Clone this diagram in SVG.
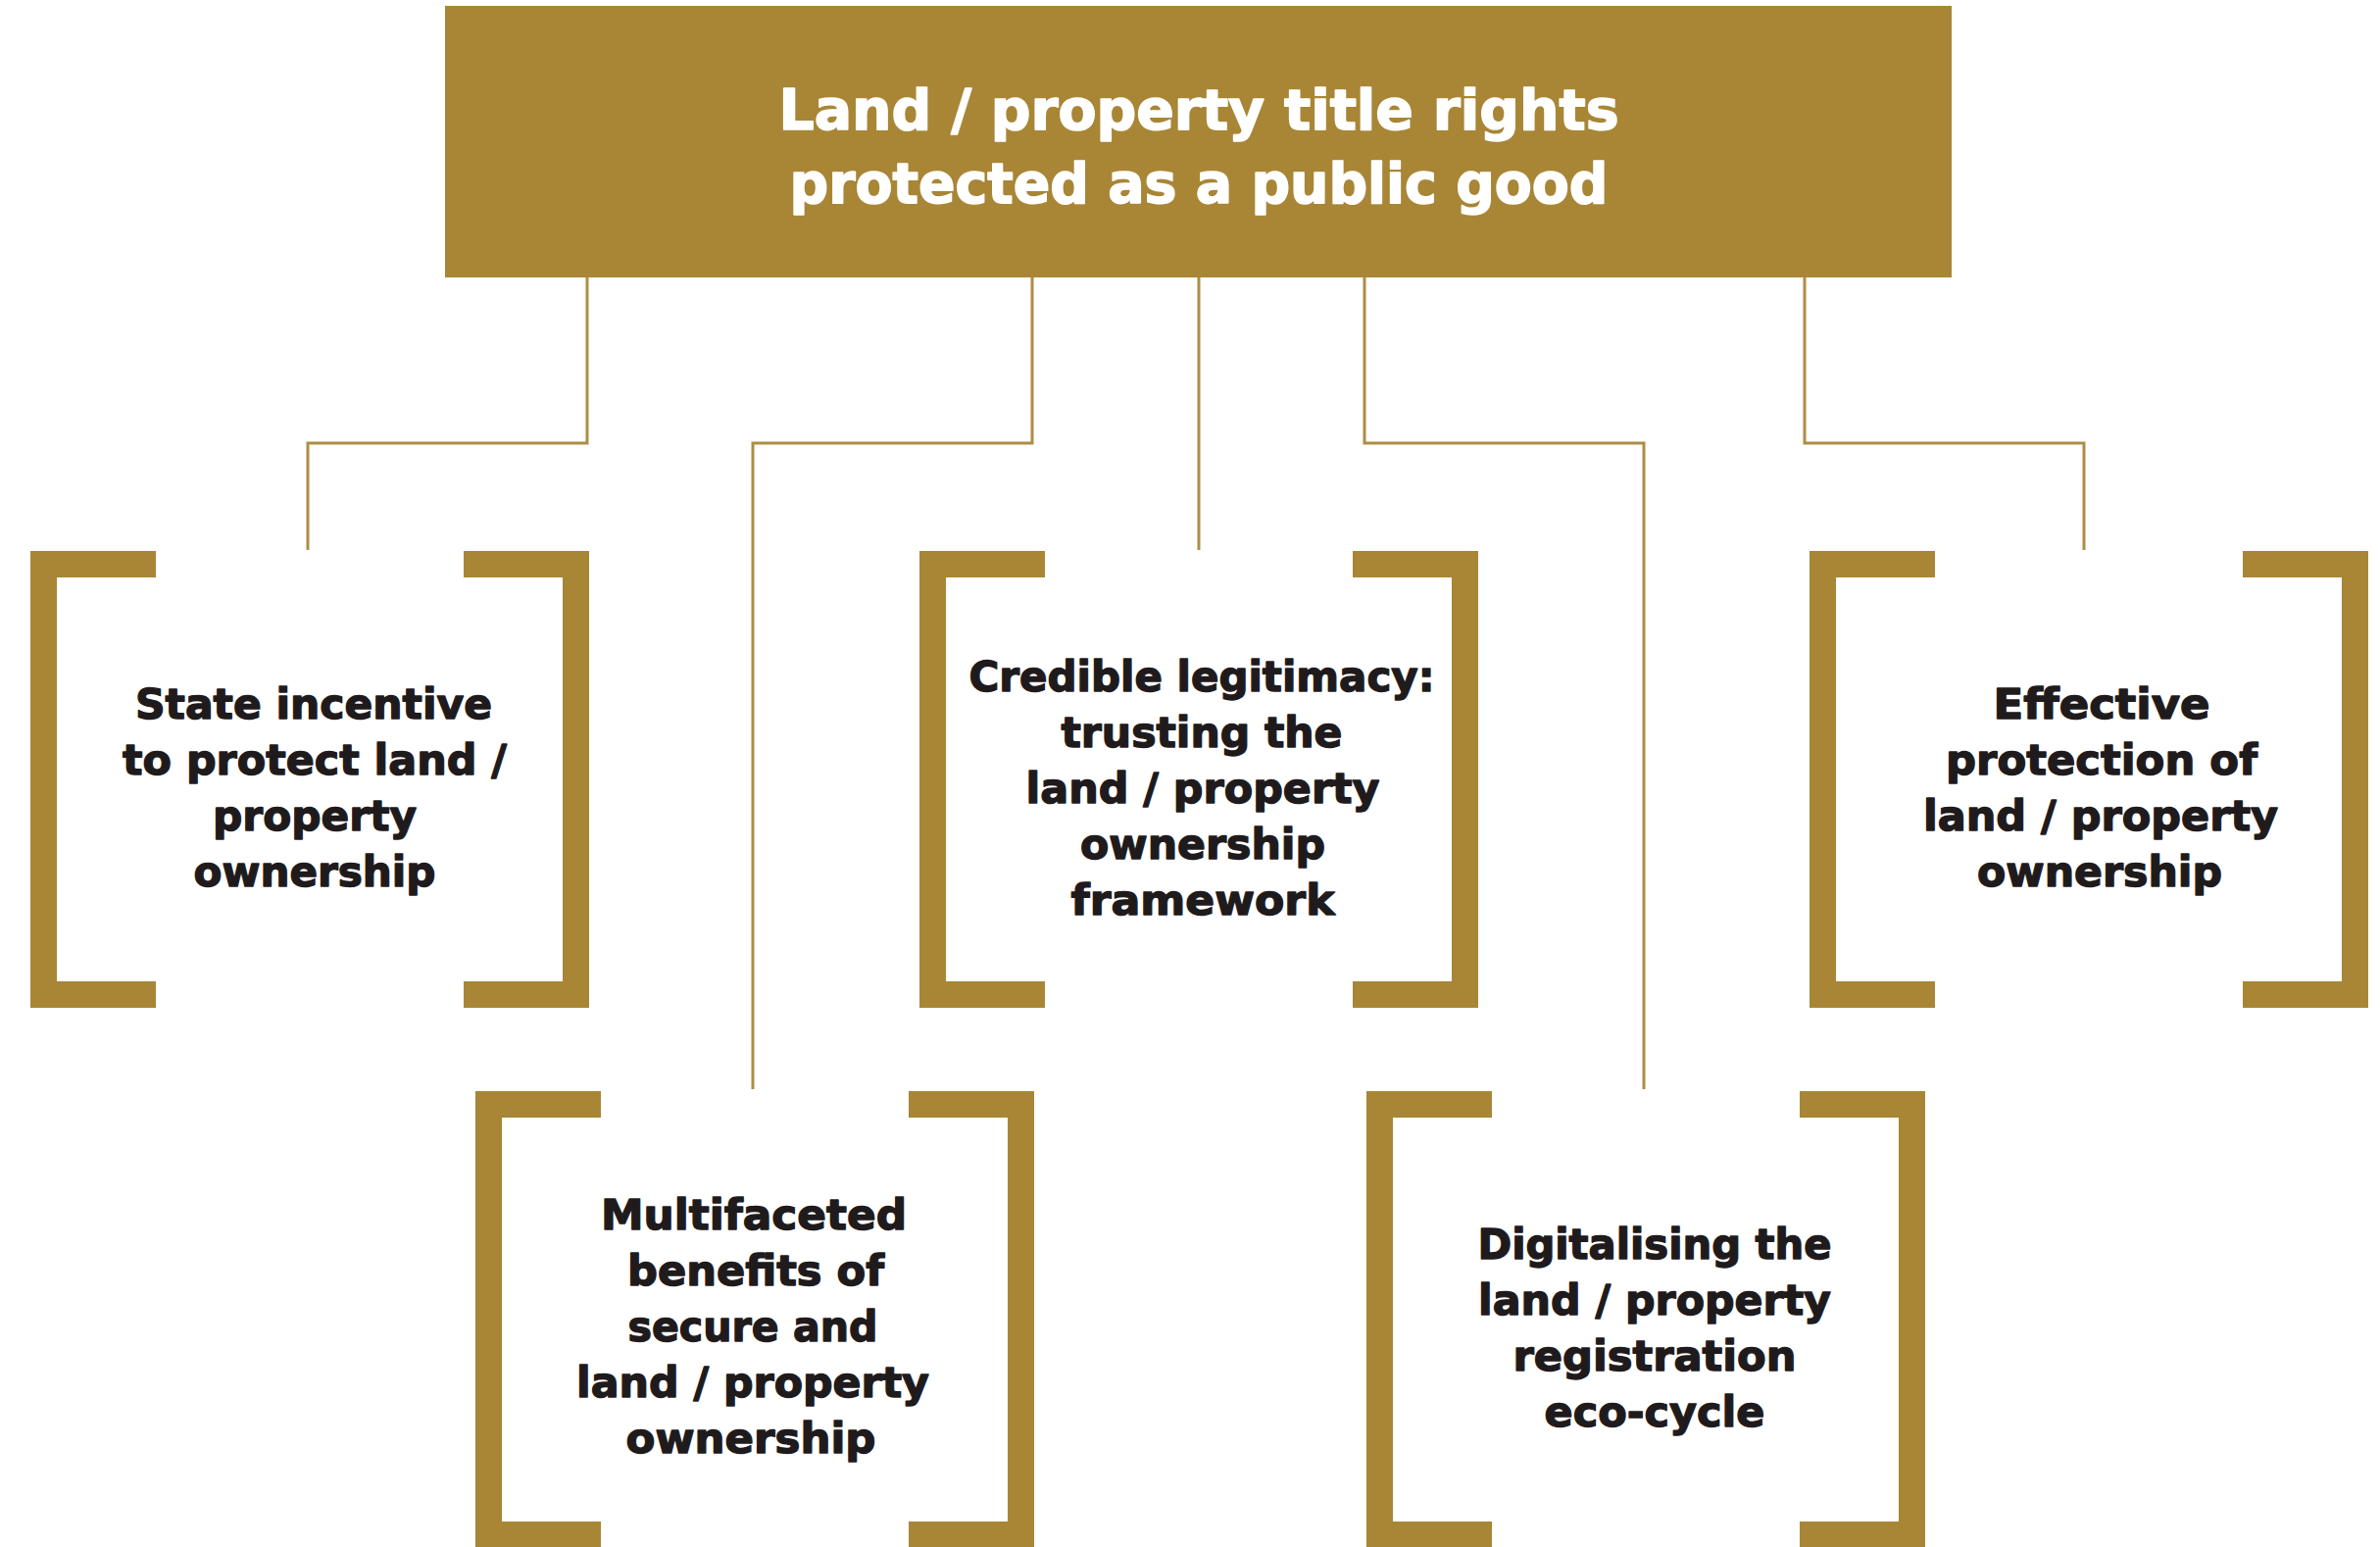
<svg xmlns="http://www.w3.org/2000/svg" xmlns:xlink="http://www.w3.org/1999/xlink" width="2428" height="1578" viewBox="0 0 2428 1578">
  <style>
    .bg { fill: #ffffff; }
    .head { fill: #a88636; }
    .bracket { fill: none; stroke: #a88636; stroke-width: 27; stroke-linejoin: miter; stroke-linecap: butt; }
    .link { fill: none; stroke: #ad8d45; stroke-width: 3; stroke-linejoin: miter; }
    .title { font-family: "DejaVu Sans", "Liberation Sans", sans-serif; font-weight: bold; font-size: 57px; fill: #ffffff; stroke: #ffffff; stroke-width: 1.6; stroke-linejoin: round; text-anchor: middle; }
    .label { font-family: "DejaVu Sans", "Liberation Sans", sans-serif; font-weight: bold; font-size: 43px; fill: #1f1b1c; stroke: #1f1b1c; stroke-width: 1.4; stroke-linejoin: round; text-anchor: middle; }
  </style>
  <defs>
    <!-- open square brackets framing each box, 570 x 466 -->
    <path id="brackets" class="bracket" d="M128,13.5 H13.5 V452.5 H128 M442,13.5 H556.5 V452.5 H442"/>
  </defs>

  <rect class="bg" x="0" y="0" width="2428" height="1578"/>

  <!-- connectors from the header down to each box -->
  <g id="connectors">
    <path class="link" d="M599,282 V452 H314 V561"/>
    <path class="link" d="M1053,282 V452 H768 V1111"/>
    <path class="link" d="M1223,282 V561"/>
    <path class="link" d="M1392,282 V452 H1677 V1111"/>
    <path class="link" d="M1841,282 V452 H2126 V561"/>
  </g>

  <g id="header">
    <rect class="head" x="454" y="6" width="1537" height="277"/>
    <text class="title" x="1223" y="132" textLength="857" lengthAdjust="spacingAndGlyphs">Land / property title rights</text>
    <text class="title" x="1223" y="207" textLength="835" lengthAdjust="spacingAndGlyphs">protected as a public good</text>
  </g>

  <g id="state-incentive">
    <use xlink:href="#brackets" href="#brackets" x="31" y="562"/>
    <text class="label" x="320" y="733" textLength="364" lengthAdjust="spacingAndGlyphs">State incentive</text>
    <text class="label" x="321" y="790" textLength="392" lengthAdjust="spacingAndGlyphs">to protect land /</text>
    <text class="label" x="321" y="847" textLength="208" lengthAdjust="spacingAndGlyphs">property</text>
    <text class="label" x="321" y="904" textLength="247" lengthAdjust="spacingAndGlyphs">ownership</text>
  </g>

  <g id="credible-legitimacy">
    <use xlink:href="#brackets" href="#brackets" x="938" y="562"/>
    <text class="label" x="1226" y="705" textLength="475" lengthAdjust="spacingAndGlyphs">Credible legitimacy:</text>
    <text class="label" x="1226" y="762" textLength="287" lengthAdjust="spacingAndGlyphs">trusting the</text>
    <text class="label" x="1227" y="819" textLength="361" lengthAdjust="spacingAndGlyphs">land / property</text>
    <text class="label" x="1227" y="876" textLength="250" lengthAdjust="spacingAndGlyphs">ownership</text>
    <text class="label" x="1227" y="933" textLength="269" lengthAdjust="spacingAndGlyphs">framework</text>
  </g>

  <g id="effective-protection">
    <use xlink:href="#brackets" href="#brackets" x="1846" y="562"/>
    <text class="label" x="2144" y="733" textLength="221" lengthAdjust="spacingAndGlyphs">Effective</text>
    <text class="label" x="2144" y="790" textLength="318" lengthAdjust="spacingAndGlyphs">protection of</text>
    <text class="label" x="2143" y="847" textLength="362" lengthAdjust="spacingAndGlyphs">land / property</text>
    <text class="label" x="2142" y="904" textLength="250" lengthAdjust="spacingAndGlyphs">ownership</text>
  </g>

  <g id="multifaceted-benefits">
    <use xlink:href="#brackets" href="#brackets" x="485" y="1113"/>
    <text class="label" x="769" y="1254" textLength="312" lengthAdjust="spacingAndGlyphs">Multifaceted</text>
    <text class="label" x="771" y="1311" textLength="262" lengthAdjust="spacingAndGlyphs">benefits of</text>
    <text class="label" x="768" y="1368" textLength="255" lengthAdjust="spacingAndGlyphs">secure and</text>
    <text class="label" x="768" y="1425" textLength="360" lengthAdjust="spacingAndGlyphs">land / property</text>
    <text class="label" x="766" y="1482" textLength="255" lengthAdjust="spacingAndGlyphs">ownership</text>
  </g>

  <g id="digitalising-registration">
    <use xlink:href="#brackets" href="#brackets" x="1394" y="1113"/>
    <text class="label" x="1688" y="1284" textLength="361" lengthAdjust="spacingAndGlyphs">Digitalising the</text>
    <text class="label" x="1688" y="1341" textLength="360" lengthAdjust="spacingAndGlyphs">land / property</text>
    <text class="label" x="1688" y="1398" textLength="289" lengthAdjust="spacingAndGlyphs">registration</text>
    <text class="label" x="1688" y="1455" textLength="225" lengthAdjust="spacingAndGlyphs">eco-cycle</text>
  </g>
</svg>
